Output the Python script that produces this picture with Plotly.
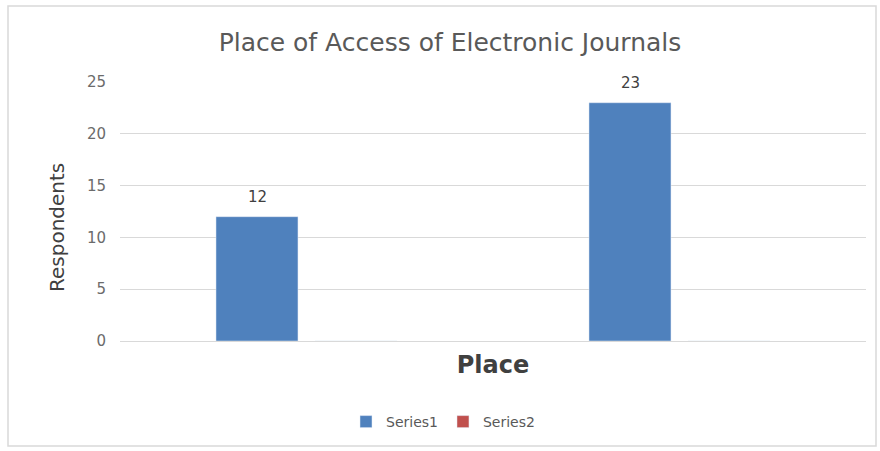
import plotly.graph_objects as go

categories = ["Place 1", "Place 2"]
series1 = [12, 23]
series2 = [0, 0]
y_ticks = [0, 5, 10, 15, 20, 25]

W, H = 880, 451
L, R, T, B = 120, 14, 82, 110
pw = W - L - R
ph = H - T - B
FONT = "DejaVu Sans, Verdana, sans-serif"

fig = go.Figure()
fig.add_trace(go.Bar(x=categories, y=series1, name="Series1", marker_color="#4F81BD"))
fig.add_trace(go.Bar(x=categories, y=series2, name="Series2", marker_color="#C0504D",
                     hoverinfo="skip"))

def px_x(px):
    return (px - L) / pw

def px_y(py):
    return (H - B - py) / ph

# data labels for Series1, placed above each bar (offset to the Series1 slot of the group)
annotations = [
    dict(x=c, y=v, text=str(v), showarrow=False, xshift=-49, yshift=20,
         font=dict(family=FONT, size=15, color="#404040"))
    for c, v in zip(categories, series1)
]
# y-axis title
annotations.append(dict(xref="paper", yref="paper", x=px_x(57), y=px_y(228),
                        xanchor="center", yanchor="middle",
                        text="Respondents", textangle=-90, showarrow=False,
                        font=dict(family=FONT, size=20, color="#404040")))

fig.update_layout(
    width=W, height=H,
    margin=dict(l=L, r=R, t=T, b=B),
    paper_bgcolor="white", plot_bgcolor="white",
    font=dict(family=FONT, color="#595959"),
    title=dict(text="Place of Access of Electronic Journals", x=450 / W, xanchor="center",
               y=1 - 42 / H, yanchor="middle", font=dict(size=25, color="#595959")),
    barmode="group", bargap=0.469, bargroupgap=0.172,
    showlegend=True,
    legend=dict(orientation="h", x=(443 - L) / pw, xanchor="center",
                y=px_y(422), yanchor="middle", font=dict(size=14, color="#595959"),
                itemwidth=30, traceorder="normal"),
    xaxis=dict(showticklabels=False, showgrid=False, showline=True, linecolor="#D9D9D9",
               ticks="", title=dict(text="<b>Place</b>", font=dict(size=24, color="#404040"),
                                    standoff=15)),
    yaxis=dict(range=[0, 25], tickvals=y_ticks, showgrid=True, gridcolor="#D9D9D9",
               zeroline=False, ticks="", tickfont=dict(size=15, color="#6b6b6b"),
               ticklabelstandoff=13),
    annotations=annotations,
    shapes=[dict(type="rect", xref="paper", yref="paper",
                 x0=px_x(8), x1=px_x(876), y0=px_y(446), y1=px_y(6),
                 line=dict(color="#D9D9D9", width=1.5), layer="below")],
)

fig.write_html("out.html")
